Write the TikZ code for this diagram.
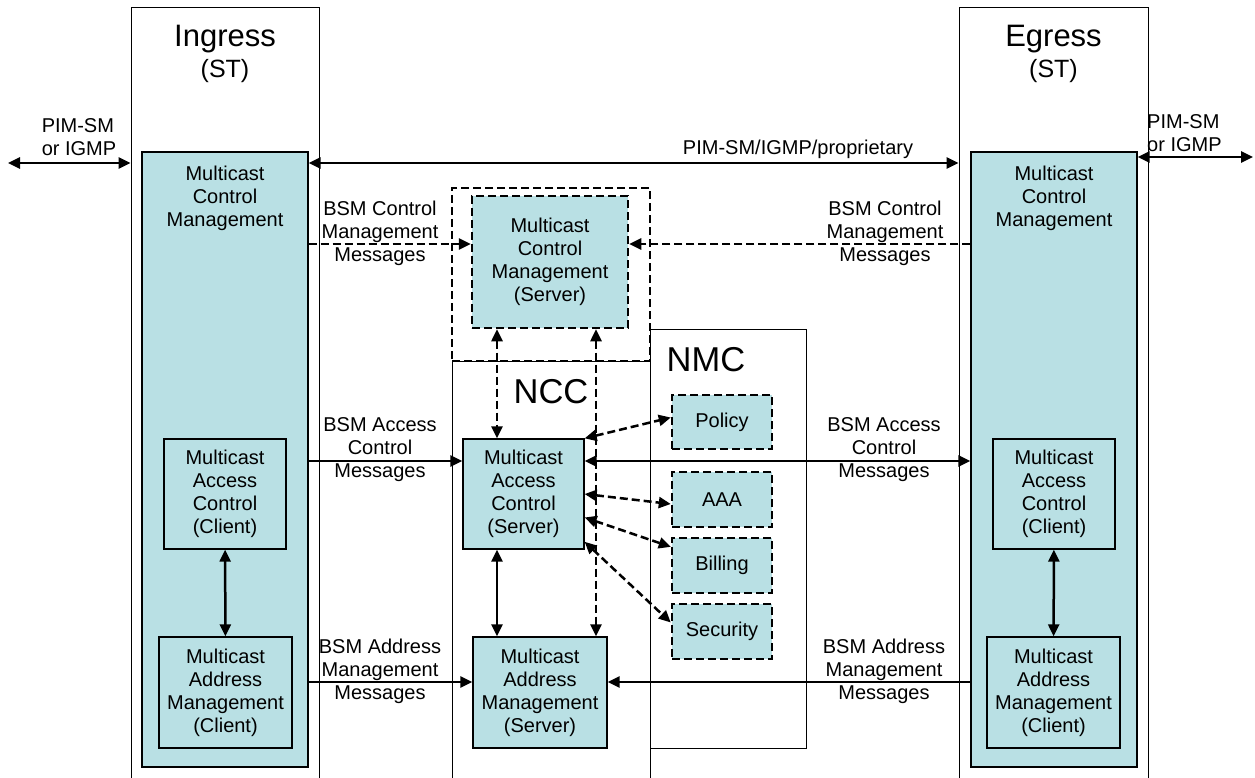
\documentclass[tikz,border=0pt]{standalone}
\usepackage{fontspec}
\setmainfont{Liberation Sans}
\usetikzlibrary{arrows.meta}
\definecolor{bsmfill}{RGB}{185,224,228}

\begin{document}
\begin{tikzpicture}
  [x=1pt, y=-1pt, >={Triangle[length=12pt,width=11pt]},
   stbox/.style={draw=black, line width=1pt, inner sep=0pt},
   tealbox/.style={draw=black, fill=bsmfill, line width=1.3pt, inner sep=0pt,
     align=center, font=\fontsize{20}{23}\selectfont},
   dashbox/.style={tealbox, line width=2.5pt, dash pattern=on 8pt off 4pt},
   txt/.style={inner sep=0pt, align=center, font=\fontsize{20}{23}\selectfont},
   link/.style={line width=2.5pt},
   dlink/.style={line width=2.5pt, dash pattern=on 8pt off 4pt}]
  \useasboundingbox (0,0) rectangle (1255,778);
  \clip (0,0) rectangle (1255,778);

  % frames
  \node[stbox, minimum width=188pt, minimum height=792pt] (ingfr) at (225,404) {};
  \node[stbox, minimum width=189pt, minimum height=792pt] (egfr) at (1053.5,404) {};
  \node[stbox, dash pattern=on 8pt off 4pt, line width=2.5pt, minimum width=198pt, minimum height=173pt] (mcmreg) at (551,274.5) {};
  \node[stbox, minimum width=198pt, minimum height=439pt] (ncc) at (551,580.5) {};
  \node[stbox, minimum width=156pt, minimum height=419pt] (nmc) at (728,538.5) {};

  \node[anchor=base, font=\fontsize{31}{31}\selectfont] (ingname) at (225,47) {Ingress};
  \node[anchor=base, font=\fontsize{25}{25}\selectfont] (ingst) at (225,78) {(ST)};
  \node[anchor=base, font=\fontsize{31}{31}\selectfont] (egname) at (1053.5,47) {Egress};
  \node[anchor=base, font=\fontsize{25}{25}\selectfont] (egst) at (1053.5,78) {(ST)};
  \node[anchor=base, font=\fontsize{34.5}{34.5}\selectfont] (nccname) at (551,403) {NCC};
  \node[anchor=base, font=\fontsize{34.5}{34.5}\selectfont] (nmcname) at (706,371) {NMC};

  % ingress / egress
  \node[tealbox, minimum width=166pt, minimum height=615pt] (ingfill) at (225,459.5) {};
  \node[tealbox, minimum width=166pt, minimum height=615pt] (egfill) at (1054,459.5) {};
  \node[txt] (ingmcm) at (225,198) {Multicast\\Control\\Management};
  \node[txt] (egmcm) at (1054,198) {Multicast\\Control\\Management};
  \node[tealbox, minimum width=122pt, minimum height=110pt] (ingacc) at (225,494) {Multicast\\Access\\Control\\(Client)};
  \node[tealbox, minimum width=133pt, minimum height=111pt] (ingaddr) at (225.5,692.5) {Multicast\\Address\\Management\\(Client)};
  \node[tealbox, minimum width=122pt, minimum height=110pt] (egacc) at (1054,494) {Multicast\\Access\\Control\\(Client)};
  \node[tealbox, minimum width=133pt, minimum height=111pt] (egaddr) at (1053.5,692.5) {Multicast\\Address\\Management\\(Client)};

  % servers
  \node[dashbox, minimum width=156pt, minimum height=132pt] (mcmsrv) at (550,262) {Multicast\\Control\\Management\\(Server)};
  \node[tealbox, minimum width=121pt, minimum height=110pt] (accsrv) at (523.5,494) {Multicast\\Access\\Control\\(Server)};
  \node[tealbox, minimum width=134pt, minimum height=111pt] (addrsrv) at (540,692.5) {Multicast\\Address\\Management\\(Server)};

  % nmc functions
  \node[dashbox, minimum width=100pt, minimum height=54pt] (policy) at (722,422) {Policy};
  \node[dashbox, minimum width=100pt, minimum height=55pt] (aaa) at (722,499.5) {AAA};
  \node[dashbox, minimum width=100pt, minimum height=55pt] (billing) at (722,565.5) {Billing};
  \node[dashbox, minimum width=100pt, minimum height=55pt] (security) at (722,631.5) {Security};

  % levels
  \coordinate (pimL) at (8,163);
  \coordinate (pimR) at (1253,157);
  \coordinate (pimlvl) at (0,163);
  \coordinate (ctrllvl) at (0,244);
  \coordinate (acclvl) at (0,461);
  \coordinate (addrlvl) at (0,682);
  \coordinate (colA) at (497,0);
  \coordinate (colB) at (596,0);

  \draw[link, <->] (pimL) -- (ingfr.west |- pimL);
  \draw[link, <->] (egfill.east |- pimR) -- (pimR);
  \draw[link, <->] (ingfill.east |- pimlvl) -- (egfr.west |- pimlvl);
  \draw[dlink, ->] (ingfill.east |- ctrllvl) -- (mcmsrv.west |- ctrllvl);
  \draw[dlink, ->] (egfill.west |- ctrllvl) -- (mcmsrv.east |- ctrllvl);
  \draw[link, ->] (ingfill.east |- acclvl) -- (accsrv.west |- acclvl);
  \draw[link, <->] (accsrv.east |- acclvl) -- (egfill.west |- acclvl);
  \draw[link, ->] (ingfill.east |- addrlvl) -- (addrsrv.west |- addrlvl);
  \draw[link, ->] (egfill.west |- addrlvl) -- (addrsrv.east |- addrlvl);
  \draw[link, <->] (ingacc) -- (ingaddr);
  \draw[link, <->] (egacc) -- (egaddr);
  \draw[link, <->] (accsrv.south -| colA) -- (addrsrv.north -| colA);
  \draw[dlink, <->] (mcmsrv.south -| colA) -- (accsrv.north -| colA);
  \draw[dlink, <->] (mcmsrv.south -| colB) -- (addrsrv.north -| colB);
  \draw[dlink, <->] (accsrv.north east) -- (policy.175);
  \draw[dlink, <->] (accsrv.east) -- (aaa.185);
  \draw[dlink, <->] (accsrv.-21) -- (billing.160);
  \draw[dlink, <->] (accsrv.-38) -- (security.170);

  % labels
  \node[txt, align=left] (pimltxt) at (79,137) {PIM-SM\\or IGMP};
  \node[txt, align=left, anchor=west] (pimrtxt) at (1147,133) {PIM-SM\\or IGMP};
  \node[txt, anchor=base] (proptxt) at (798,155) {PIM-SM/IGMP/proprietary};
  \node[txt] (ctrlltxt) at (380,233) {BSM Control\\Management\\Messages};
  \node[txt] (ctrlrtxt) at (885,233) {BSM Control\\Management\\Messages};
  \node[txt] (accltxt) at (380,450) {BSM Access\\Control\\Messages};
  \node[txt] (accrtxt) at (884,450) {BSM Access\\Control\\Messages};
  \node[txt] (addrltxt) at (380,671) {BSM Address\\Management\\Messages};
  \node[txt] (addrrtxt) at (884,671) {BSM Address\\Management\\Messages};
\end{tikzpicture}
\end{document}
